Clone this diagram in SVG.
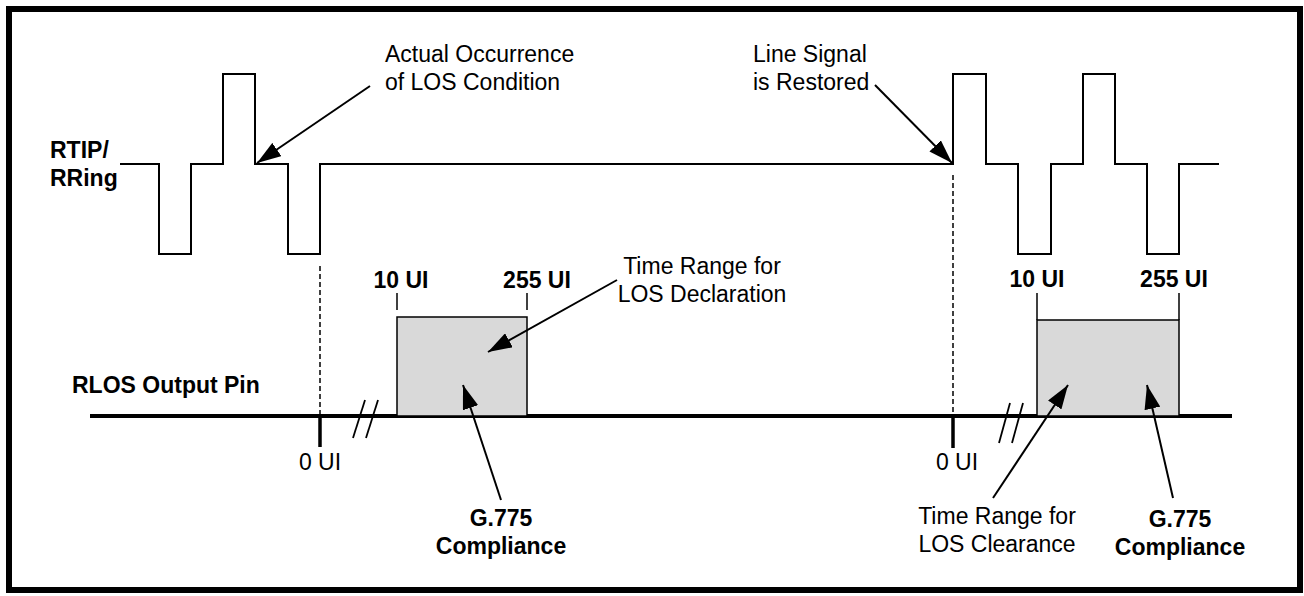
<svg xmlns="http://www.w3.org/2000/svg" width="1304" height="596" viewBox="0 0 1304 596">
  <style>
    text { font-family: "Liberation Sans", Arial, sans-serif; font-size: 23px; fill: #000; }
    .b { font-weight: bold; }
    .wave { fill: none; stroke: #000; stroke-width: 2; }
    .dash { fill: none; stroke: #000; stroke-width: 1.5; stroke-dasharray: 5 3; }
    .axis { stroke: #000; stroke-width: 4; }
    .tick0 { stroke: #000; stroke-width: 3.5; }
    .tick { stroke: #000; stroke-width: 1.5; }
    .brk { stroke: #000; stroke-width: 1.8; }
    .box { fill: #d9d9d9; stroke: #000; stroke-width: 1.5; }
    .arr { stroke: #000; stroke-width: 2; fill: none; marker-end: url(#ah); }
  </style>
  <defs>
    <marker id="ah" viewBox="0 0 24 16" refX="24" refY="8" markerWidth="24" markerHeight="16" markerUnits="userSpaceOnUse" orient="auto">
      <path d="M0,0 L24,8 L0,16 z" fill="#000"/>
    </marker>
  </defs>
  <rect x="0" y="0" width="1304" height="596" fill="#fff"/>
  <rect id="frame" x="9" y="9" width="1291" height="581" fill="none" stroke="#000" stroke-width="6"/>

  <g id="rtip-signal">
    <text class="b" x="50" y="158">RTIP/</text>
    <text class="b" x="50" y="186">RRing</text>
    <path class="wave" d="M120,164 H159 V254 H191 V164 H223 V74 H255 V164 H288 V254 H320 V164 H953 V74 H986 V164 H1018 V254 H1051 V164 H1083 V74 H1115 V164 H1147 V254 H1179 V164 H1219"/>
  </g>

  <g id="rlos-output">
    <text class="b" x="72" y="393">RLOS Output Pin</text>
    <line class="axis" x1="90" y1="416" x2="1232" y2="416"/>
    <line class="dash" x1="320" y1="266" x2="320" y2="414"/>
    <line class="dash" x1="953" y1="175" x2="953" y2="414"/>
    <line class="tick0" x1="320" y1="416" x2="320" y2="447"/>
    <line class="tick0" x1="953" y1="416" x2="953" y2="448"/>
    <text x="320" y="470" text-anchor="middle">0 UI</text>
    <text x="957" y="470" text-anchor="middle">0 UI</text>
    <line class="brk" x1="365" y1="400" x2="353" y2="438"/>
    <line class="brk" x1="378" y1="400" x2="366" y2="438"/>
    <line class="brk" x1="1010" y1="403" x2="999" y2="443"/>
    <line class="brk" x1="1023" y1="403" x2="1012" y2="443"/>
  </g>

  <g id="declaration-window">
    <line class="tick" x1="397" y1="293" x2="397" y2="310"/>
    <line class="tick" x1="527" y1="293" x2="527" y2="310"/>
    <rect class="box" x="397" y="317" width="130" height="99"/>
    <text class="b" x="401" y="288" text-anchor="middle">10 UI</text>
    <text class="b" x="537" y="288" text-anchor="middle">255 UI</text>
  </g>

  <g id="clearance-window">
    <line class="tick" x1="1037" y1="293" x2="1037" y2="320"/>
    <line class="tick" x1="1179" y1="293" x2="1179" y2="320"/>
    <rect class="box" x="1037" y="320" width="142" height="96"/>
    <text class="b" x="1037" y="287" text-anchor="middle">10 UI</text>
    <text class="b" x="1174" y="287" text-anchor="middle">255 UI</text>
  </g>

  <g id="label-los-occurrence">
    <text x="385" y="62">Actual Occurrence</text>
    <text x="385" y="90">of LOS Condition</text>
  </g>
  <g id="label-restored">
    <text x="753" y="62">Line Signal</text>
    <text x="753" y="90">is Restored</text>
  </g>
  <g id="label-declaration">
    <text x="702" y="274" text-anchor="middle">Time Range for</text>
    <text x="702" y="302" text-anchor="middle">LOS Declaration</text>
  </g>
  <g id="label-g775-left">
    <text class="b" x="501" y="526" text-anchor="middle">G.775</text>
    <text class="b" x="501" y="554" text-anchor="middle">Compliance</text>
  </g>
  <g id="label-clearance">
    <text x="997" y="524" text-anchor="middle">Time Range for</text>
    <text x="997" y="552" text-anchor="middle">LOS Clearance</text>
  </g>
  <g id="label-g775-right">
    <text class="b" x="1180" y="527" text-anchor="middle">G.775</text>
    <text class="b" x="1180" y="555" text-anchor="middle">Compliance</text>
  </g>

  <g id="connectors">
    <line class="arr" x1="370" y1="86" x2="257" y2="163"/>
    <line class="arr" x1="875" y1="85" x2="952" y2="163"/>
    <line class="arr" x1="617" y1="280" x2="488" y2="352"/>
    <line class="arr" x1="501" y1="500" x2="463" y2="385"/>
    <line class="arr" x1="993" y1="498" x2="1068" y2="385"/>
    <line class="arr" x1="1173" y1="498" x2="1147" y2="385"/>
  </g>
</svg>
